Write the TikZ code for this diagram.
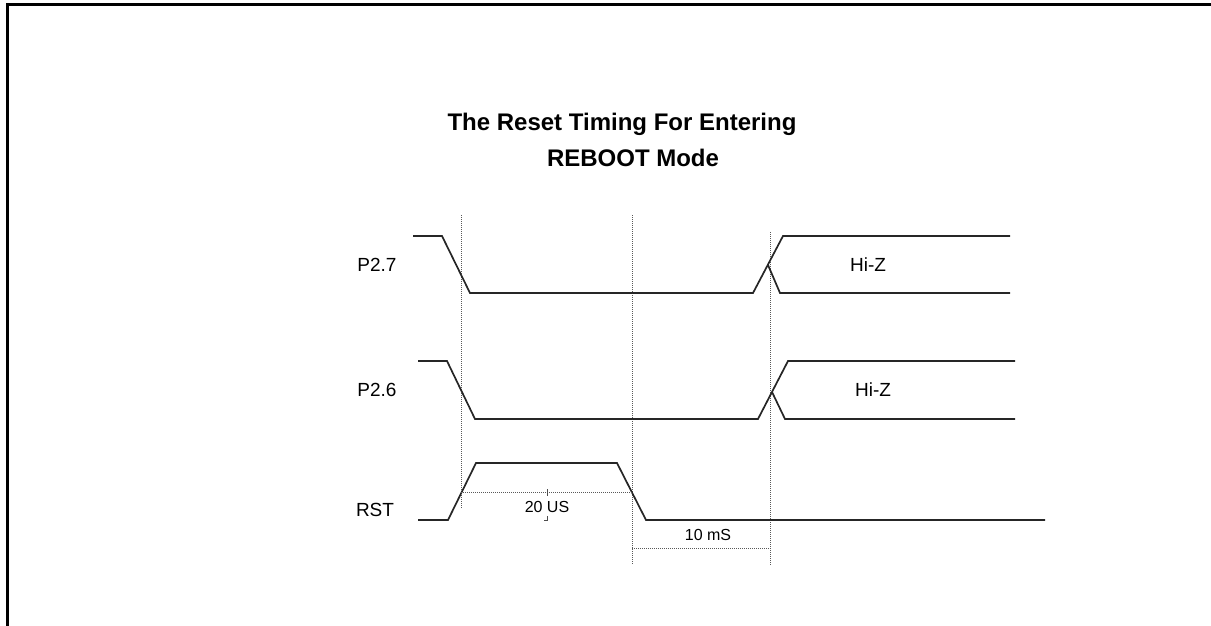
\documentclass[tikz,border=0pt]{standalone}
\usepackage{fontspec}
\setmainfont{Liberation Sans}
\usetikzlibrary{calc}

\begin{document}
\begin{tikzpicture}[x=1pt,y=-1pt,line join=miter]
  \tikzstyle{wave}=[line width=1.7pt,black!85]
  \tikzstyle{guide}=[line width=1pt,black!65,dash pattern=on 1pt off 1pt]
  \tikzstyle{sig}=[font=\fontsize{19}{22}\selectfont]
  \tikzstyle{dim}=[font=\fontsize{16}{19}\selectfont]
  \tikzstyle{title}=[font=\bfseries\fontsize{24}{28}\selectfont]

  \useasboundingbox (0,0) rectangle (1211,626);
  % frame
  \draw[line width=3pt] (7,626) -- (7,5) -- (1211,5);

  % title
  \node[title] (t1) at (622,124) {The Reset Timing For Entering};
  \node[title] (t2) at (633,158) {REBOOT Mode};

  % signal names
  \node[sig] (p27) at (377,265) {P2.7};
  \node[sig] (p26) at (377,390) {P2.6};
  \node[sig] (rst) at (375,510) {RST};

  % timing guides
  \coordinate (g1) at (461,215);
  \coordinate (g2) at (632,215);
  \coordinate (g3) at (770,232);
  \draw[guide] (g1) -- (461,508);
  \draw[guide] (g2) -- (632,565);
  \draw[guide] (g3) -- (770,565);

  % P2.7
  \draw[wave] (413,236) -- (442,236) -- (470,293) -- (753,293)
              -- (783,236) -- (1010,236);
  \draw[wave] (768,265) -- (780,293) -- (1010,293);
  \node[sig] (hz1) at (868,265) {Hi-Z};

  % P2.6
  \draw[wave] (418,361) -- (447,361) -- (475,419) -- (758,419)
              -- (788,361) -- (1015,361);
  \draw[wave] (772,392) -- (785,419) -- (1015,419);
  \node[sig] (hz2) at (873,390) {Hi-Z};

  % RST
  \draw[wave] (418,520) -- (448,520) -- (476,463) -- (617,463)
              -- (646,520) -- (1045,520);

  % durations
  \draw[guide] (461,492) -- (632,492);
  \draw[black!70,line width=0.8pt] (547,489) -- (547,496);
  \draw[black!70,line width=0.8pt] (547,516) -- (547,520) -- (544,520);
  \node[dim] (us) at (547,507) {20 US};
  \draw[guide] (632,548) -- (770,548);
  \node[dim] (ms) at (708,535) {10 mS};
\end{tikzpicture}
\end{document}
